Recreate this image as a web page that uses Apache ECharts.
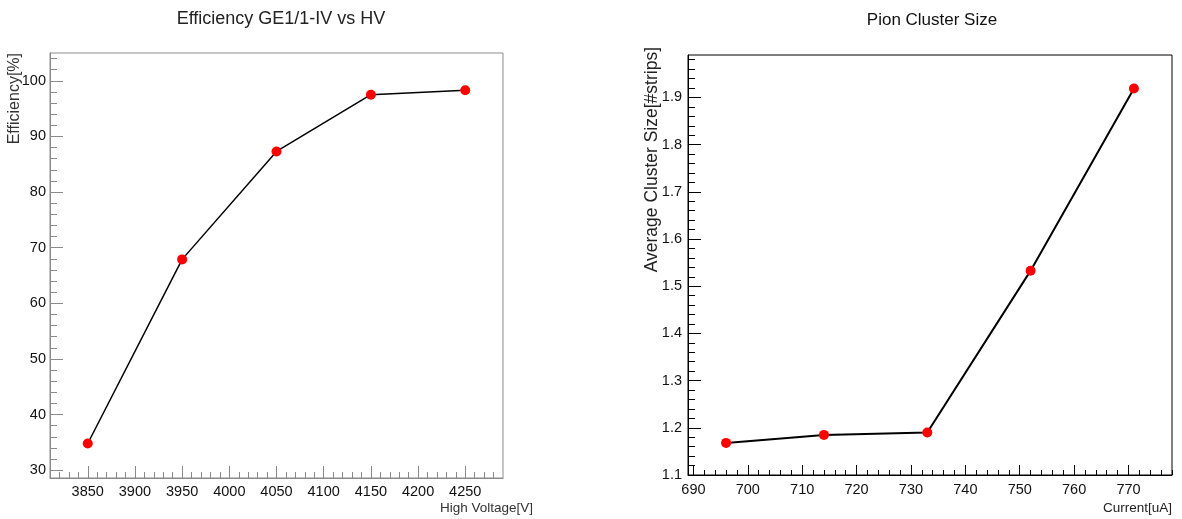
<!DOCTYPE html>
<html>
<head>
<meta charset="utf-8">
<script src="https://cdn.jsdelivr.net/npm/echarts@6/dist/echarts.min.js"></script>
<style>
  html, body { margin: 0; padding: 0; background: #fff; }
  #chart { width: 1182px; height: 519px; }
</style>
</head>
<body>
<div id="chart"></div>
<script>
// efficiency vs high voltage (left) and pion cluster size vs current (right)
const effVoltage = [3850, 3950, 4050, 4150, 4250];
const effValues = [34.8, 67.9, 87.3, 97.5, 98.3];
const pionCurrent = [696, 714, 733, 752, 771];
const pionSize = [1.168, 1.185, 1.19, 1.533, 1.919];

const voltTicks = [3850, 3900, 3950, 4000, 4050, 4100, 4150, 4200, 4250];
const effTicks = [30, 40, 50, 60, 70, 80, 90, 100];
const currentTicks = [690, 700, 710, 720, 730, 740, 750, 760, 770];
const sizeTicks = [1.1, 1.2, 1.3, 1.4, 1.5, 1.6, 1.7, 1.8, 1.9];

// minor ticks, 5 divisions per major step
function minors(from, to, step, major) {
    const out = [];
    for (let v = from; v <= to + 1e-9; v += step) {
        const r = Math.round(v * 1000) / 1000;
        if (Math.abs(r / major - Math.round(r / major)) > 1e-6) out.push(r);
    }
    return out;
}
const voltMinor = minors(3820, 4280, 10, 50);
const effMinor = minors(30, 104, 2, 10);
const currentMinor = minors(690, 778, 2, 10);
const sizeMinor = minors(1.1, 1.98, 0.02, 0.1);

const font = '"Liberation Sans", Arial, sans-serif';
const grayAxis = '#8a8a8a';

function majorAxis(min, max, ticks, color, len, margin, extra) {
    return Object.assign({
        type: 'value', min: min, max: max,
        axisLine: { show: true, lineStyle: { color: color, width: 1 } },
        axisTick: { show: true, inside: true, length: len, customValues: ticks, lineStyle: { color: color } },
        axisLabel: {
            customValues: ticks, margin: margin, color: '#111', fontFamily: font, fontSize: 14.5,
            formatter: v => String(v)
        },
        splitLine: { show: false }
    }, extra);
}
function minorAxis(min, max, ticks, color, len, extra) {
    return Object.assign({
        type: 'value', min: min, max: max, offset: 0,
        axisLine: { show: false },
        axisTick: { show: true, inside: true, length: len, customValues: ticks, lineStyle: { color: color } },
        axisLabel: { show: false },
        splitLine: { show: false }
    }, extra);
}

const option = {
    animation: false,
    backgroundColor: '#fff',
    grid: [
        { left: 50, top: 53, width: 453, height: 425, show: true, borderColor: grayAxis, borderWidth: 1 },
        { left: 688, top: 55, width: 484, height: 420, show: true, borderColor: '#000', borderWidth: 1 }
    ],
    xAxis: [
        majorAxis(3810, 4290, voltTicks, grayAxis, 12, 6, { gridIndex: 0, position: 'bottom' }),
        minorAxis(3810, 4290, voltMinor, grayAxis, 6, { gridIndex: 0, position: 'bottom' }),
        majorAxis(689, 778, currentTicks, '#000', 10, 7, { gridIndex: 1, position: 'bottom' }),
        minorAxis(689, 778, currentMinor, '#000', 5, { gridIndex: 1, position: 'bottom' })
    ],
    yAxis: [
        majorAxis(28.6, 105, effTicks, grayAxis, 13, 4, { gridIndex: 0, position: 'left' }),
        minorAxis(28.6, 105, effMinor, grayAxis, 7, { gridIndex: 0, position: 'left' }),
        majorAxis(1.1, 1.99, sizeTicks, '#000', 13, 6, { gridIndex: 1, position: 'left' }),
        minorAxis(1.1, 1.99, sizeMinor, '#000', 7, { gridIndex: 1, position: 'left' })
    ],
    series: [
        {
            type: 'line', xAxisIndex: 0, yAxisIndex: 0,
            data: effVoltage.map((v, i) => [v, effValues[i]]),
            symbol: 'circle', symbolSize: 10,
            itemStyle: { color: '#ff0000' },
            lineStyle: { color: '#000', width: 1.5 }
        },
        {
            type: 'line', xAxisIndex: 2, yAxisIndex: 2,
            data: pionCurrent.map((v, i) => [v, pionSize[i]]),
            symbol: 'circle', symbolSize: 10,
            itemStyle: { color: '#ff0000' },
            lineStyle: { color: '#000', width: 2 }
        }
    ],
    graphic: [
        { type: 'text', x: 281, y: 19, style: { text: 'Efficiency GE1/1-IV vs HV', fontFamily: font, fontSize: 18, fill: '#222', align: 'center', verticalAlign: 'middle' } },
        { type: 'text', x: 932, y: 20, style: { text: 'Pion Cluster Size', fontFamily: font, fontSize: 17, fill: '#111', align: 'center', verticalAlign: 'middle' } },
        { type: 'text', x: 15, y: 53, rotation: Math.PI / 2, style: { text: 'Efficiency[%]', fontFamily: font, fontSize: 16, fill: '#333', align: 'right', verticalAlign: 'middle' } },
        { type: 'text', x: 652, y: 47, rotation: Math.PI / 2, style: { text: 'Average Cluster Size[#strips]', fontFamily: font, fontSize: 17.5, fill: '#222', align: 'right', verticalAlign: 'middle' } },
        { type: 'text', x: 533, y: 508, style: { text: 'High Voltage[V]', fontFamily: font, fontSize: 13.5, fill: '#333', align: 'right', verticalAlign: 'middle' } },
        { type: 'text', x: 1172, y: 508, style: { text: 'Current[uA]', fontFamily: font, fontSize: 13.5, fill: '#222', align: 'right', verticalAlign: 'middle' } }
    ]
};

const myChart = echarts.init(document.getElementById('chart'));
myChart.setOption(option);
</script>
</body>
</html>
